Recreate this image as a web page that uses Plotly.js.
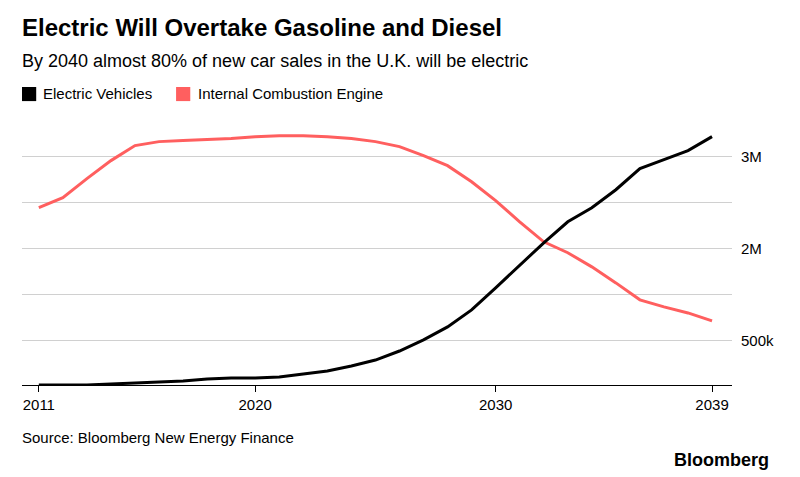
<html>
<head>
<script src="https://cdn.plot.ly/plotly-3.0.1.min.js"></script>
</head>
<body style="margin:0">
<div id="chart" style="width:800px;height:477px"></div>
<script>
// y values in chart units: gridlines sit at 1, 1.5, 2, 2.5, 3
let years = [];
for (let y = 2011; y <= 2039; y++) years.push(y);
let electric = [0.522,0.522,0.522,0.533,0.543,0.554,0.565,0.587,0.598,0.598,0.609,0.641,0.674,0.728,0.793,0.891,1.011,1.152,1.337,1.576,1.826,2.065,2.293,2.446,2.641,2.870,2.967,3.065,3.217];
let combustion = [2.446,2.554,2.761,2.957,3.120,3.163,3.174,3.185,3.196,3.217,3.228,3.228,3.217,3.196,3.163,3.109,3.011,2.902,2.728,2.522,2.293,2.076,1.957,1.804,1.630,1.446,1.370,1.304,1.217];
let tickVals = [1, 1.5, 2, 2.5, 3];
let tickText = ["500k", "", "2M", "", "3M"];

let data = [
  {x: years, y: combustion, mode: "lines", line: {color: "#ff5f5f", width: 3}, name: "Internal Combustion Engine"},
  {x: years, y: electric, mode: "lines", line: {color: "#000000", width: 3}, name: "Electric Vehicles"}
];

let layout = {
  width: 800, height: 477,
  margin: {l: 22, r: 68, t: 129, b: 92},
  paper_bgcolor: "#fff", plot_bgcolor: "#fff",
  font: {family: "Liberation Sans, Arial, sans-serif", color: "#000"},
  showlegend: false,
  xaxis: {range: [2010.3, 2039.83], tickvals: [2011, 2020, 2030, 2039], ticks: "outside", ticklen: 6,
          tickcolor: "#000", showgrid: false, zeroline: false, showline: true, linecolor: "#000", linewidth: 1,
          tickfont: {size: 15}},
  yaxis: {range: [0.522, 3.3], side: "right", tickvals: tickVals, ticktext: tickText, gridcolor: "#d0d0d0",
          zeroline: false, tickfont: {size: 15}, ticklabelstandoff: 8},
  shapes: [
    {type: "rect", xref: "paper", yref: "paper", x0: 0, x1: 0.02, y0: 1.109, y1: 1.164, fillcolor: "#000", line: {width: 0}},
    {type: "rect", xref: "paper", yref: "paper", x0: 0.217, x1: 0.237, y0: 1.109, y1: 1.164, fillcolor: "#ff5f5f", line: {width: 0}}
  ],
  annotations: [
    {xref: "paper", yref: "paper", x: -0.003, y: 1.398, xanchor: "left", yanchor: "middle", showarrow: false,
     text: "<b>Electric Will Overtake Gasoline and Diesel</b>", font: {size: 24}},
    {xref: "paper", yref: "paper", x: -0.003, y: 1.266, xanchor: "left", yanchor: "middle", showarrow: false,
     text: "By 2040 almost 80% of new car sales in the U.K. will be electric", font: {size: 18}},
    {xref: "paper", yref: "paper", x: 0.027, y: 1.137, xanchor: "left", yanchor: "middle", showarrow: false,
     text: "Electric Vehicles", font: {size: 15}},
    {xref: "paper", yref: "paper", x: 0.245, y: 1.137, xanchor: "left", yanchor: "middle", showarrow: false,
     text: "Internal Combustion Engine", font: {size: 15}},
    {xref: "paper", yref: "paper", x: -0.003, y: -0.207, xanchor: "left", yanchor: "middle", showarrow: false,
     text: "Source: Bloomberg New Energy Finance", font: {size: 15}},
    {xref: "paper", yref: "paper", x: 1.055, y: -0.293, xanchor: "right", yanchor: "middle", showarrow: false,
     text: "<b>Bloomberg</b>", font: {size: 18}}
  ]
};

Plotly.newPlot("chart", data, layout, {displayModeBar: false});
</script>
</body>
</html>
